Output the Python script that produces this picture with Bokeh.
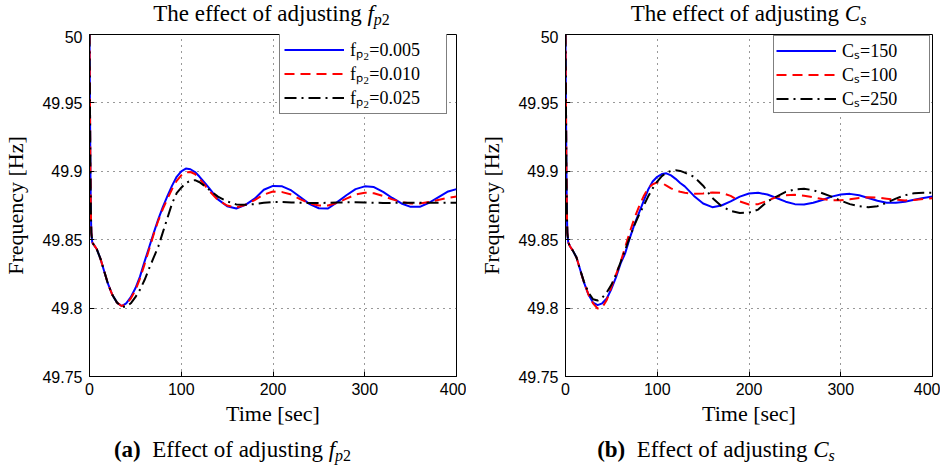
from bokeh.plotting import figure
from bokeh.models import FixedTicker, Legend, LegendItem, Div, Range1d
from bokeh.layouts import row, column
from bokeh.embed import file_html
from bokeh.resources import INLINE

# ---------------- data ----------------
t = [0, 0.5, 1, 1.5, 2, 3, 5, 8, 12, 16, 20, 25, 30,
     35, 40, 45, 50, 55, 60, 65, 70, 75, 80, 85, 90, 95, 100, 105, 110, 115, 120, 125, 130,
     140, 150, 160, 170, 180, 190, 200, 210, 220, 230, 240, 250, 260, 270, 280, 290, 300,
     310, 320, 330, 340, 350, 360, 370, 380, 390, 400]

# panel (a): effect of f_p2
fp2_005 = [50.0, 49.95, 49.9, 49.87, 49.855, 49.848, 49.846, 49.843, 49.836, 49.827, 49.818, 49.8095, 49.804,
           49.8015, 49.8035, 49.808, 49.8145, 49.823, 49.834, 49.8445, 49.855, 49.865, 49.874, 49.882, 49.8895,
           49.896, 49.9, 49.902, 49.9015, 49.8995, 49.896, 49.892, 49.888,
           49.8795, 49.8745, 49.8728, 49.8755, 49.880, 49.8865, 49.8893, 49.889, 49.886, 49.881, 49.876, 49.873,
           49.8728, 49.8775, 49.8825, 49.887, 49.889, 49.8885, 49.885, 49.8805, 49.8765, 49.874, 49.874, 49.877,
           49.881, 49.885, 49.887]
fp2_010 = [50.0, 49.95, 49.9, 49.87, 49.855, 49.848, 49.846, 49.843, 49.836, 49.827, 49.818, 49.8095, 49.804,
           49.8015, 49.803, 49.807, 49.813, 49.8215, 49.832, 49.843, 49.854, 49.864, 49.8725, 49.880, 49.887,
           49.893, 49.897, 49.8993, 49.8995, 49.898, 49.8945, 49.8905, 49.886,
           49.879, 49.875, 49.8735, 49.8755, 49.879, 49.883, 49.8852, 49.8848, 49.883, 49.8795, 49.8765, 49.875,
           49.875, 49.877, 49.880, 49.883, 49.8843, 49.884, 49.882, 49.8795, 49.8775, 49.8765, 49.8765, 49.8775,
           49.879, 49.8805, 49.8815]
fp2_025 = [50.0, 49.95, 49.9, 49.87, 49.855, 49.848, 49.846, 49.843, 49.836, 49.827, 49.818, 49.8095, 49.804,
           49.801, 49.801, 49.8035, 49.808, 49.8135, 49.8205, 49.829, 49.837, 49.845, 49.8555, 49.866, 49.8765,
           49.884, 49.888, 49.8915, 49.893, 49.8935, 49.892, 49.8895, 49.8868,
           49.8815, 49.878, 49.8758, 49.8755, 49.876, 49.877, 49.8775, 49.8775, 49.8772, 49.877, 49.8768, 49.8768,
           49.877, 49.8772, 49.8773, 49.8773, 49.8772, 49.877, 49.8769, 49.8769, 49.877, 49.8771, 49.8771, 49.8771,
           49.877, 49.877, 49.877]

# panel (b): effect of C_s
cs_150 = [50.0, 49.95, 49.9, 49.87, 49.855, 49.848, 49.845, 49.842, 49.837, 49.828, 49.819, 49.810, 49.804,
          49.8022, 49.8035, 49.807, 49.814, 49.8225, 49.8325, 49.840, 49.851, 49.861, 49.8695, 49.878, 49.8865,
          49.8925, 49.896, 49.898, 49.8985, 49.897, 49.8945, 49.8915, 49.889,
          49.882, 49.8765, 49.8738, 49.875, 49.878, 49.8815, 49.8838, 49.8843, 49.883, 49.8805, 49.8778, 49.876,
          49.8757, 49.877, 49.879, 49.8815, 49.883, 49.8835, 49.8825, 49.8805, 49.8785, 49.877, 49.877, 49.8778,
          49.8792, 49.8805, 49.8815]
cs_100 = [50.0, 49.95, 49.9, 49.87, 49.855, 49.848, 49.845, 49.842, 49.837, 49.828, 49.819, 49.810, 49.8035,
          49.7997, 49.8005, 49.806, 49.8155, 49.8245, 49.8335, 49.8445, 49.8555, 49.8655, 49.874, 49.8815, 49.8875,
          49.8905, 49.892, 49.8915, 49.8895, 49.8875, 49.886, 49.885, 49.8843,
          49.8835, 49.8838, 49.8845, 49.8843, 49.882, 49.878, 49.8757, 49.876, 49.8785, 49.8812, 49.8825, 49.8828,
          49.8822, 49.881, 49.8797, 49.8788, 49.8788, 49.8795, 49.8805, 49.881, 49.8808, 49.880, 49.8792, 49.8787,
          49.879, 49.8797, 49.8803]
cs_250 = [50.0, 49.95, 49.9, 49.87, 49.855, 49.848, 49.845, 49.842, 49.837, 49.828, 49.8195, 49.8115, 49.8065,
          49.8055, 49.8075, 49.8115, 49.817, 49.8245, 49.8335, 49.8425, 49.8515, 49.8605, 49.868, 49.8745, 49.8815,
          49.8875, 49.8925, 49.8965, 49.899, 49.9003, 49.9007, 49.9003, 49.899,
          49.896, 49.8895, 49.8805, 49.8745, 49.871, 49.8695, 49.8698, 49.872, 49.878, 49.8815, 49.885, 49.8868,
          49.8872, 49.8862, 49.884, 49.8815, 49.8785, 49.876, 49.8745, 49.8738, 49.8745, 49.877, 49.880, 49.8825,
          49.884, 49.8843, 49.8843]

labels_a = ["f\u209a\u2082=0.005", "f\u209a\u2082=0.010", "f\u209a\u2082=0.025"]
labels_b = ["C\u209b=150", "C\u209b=100", "C\u209b=250"]

xticks = [0, 100, 200, 300, 400]
xtick_labels = ["0", "100", "200", "300", "400"]
yticks = [49.75, 49.8, 49.85, 49.9, 49.95, 50.0]
ytick_labels = ["49.75", "49.8", "49.85", "49.9", "49.95", "50"]

# ---------------- styling ----------------
COLORS = ["#0000FF", "#FF0000", "#000000"]
DASHES = ["solid", "10 6", "12 5 2 5"]
SERIF = "Liberation Serif"
SANS = "Liberation Sans"
FW, FH = 367, 342
TOP, BOTTOM = 4, 55
TITLE_H = 30


def make_panel(series, labels, left, right, leg_loc, leg_pad, leg_lw):
    p = figure(frame_width=FW, frame_height=FH,
               x_range=Range1d(0, 400), y_range=Range1d(49.75, 50.0),
               output_backend="svg", toolbar_location=None,
               min_border_left=left, min_border_right=right,
               min_border_top=TOP, min_border_bottom=BOTTOM,
               background_fill_color="white", border_fill_color="white",
               outline_line_color="black", outline_line_width=1)
    xt = FixedTicker(ticks=xticks)
    yt = FixedTicker(ticks=yticks)
    p.xaxis.ticker = xt
    p.yaxis.ticker = yt
    p.xgrid.ticker = xt
    p.ygrid.ticker = yt
    p.xaxis.major_label_overrides = {k: v for k, v in zip(xticks, xtick_labels)}
    p.yaxis.major_label_overrides = {k: v for k, v in zip(yticks, ytick_labels)}
    p.xaxis.axis_label = "Time [sec]"
    p.yaxis.axis_label = "Frequency [Hz]"
    for ax in (p.xaxis, p.yaxis):
        ax.axis_label_text_font = SERIF
        ax.axis_label_text_font_size = "22px"
        ax.axis_label_text_font_style = "normal"
        ax.axis_label_text_color = "black"
        ax.major_label_text_font = SANS
        ax.major_label_text_font_size = "16px"
        ax.major_label_text_color = "black"
        ax.major_tick_in = 5
        ax.major_tick_out = 0
        ax.minor_tick_in = 0
        ax.minor_tick_out = 0
        ax.axis_line_color = "black"
        ax.major_tick_line_color = "black"
    p.xaxis.major_label_standoff = 6
    p.xaxis.axis_label_standoff = 3
    p.yaxis.major_label_standoff = 7
    p.yaxis.axis_label_standoff = 11
    for g in (p.xgrid, p.ygrid):
        g.grid_line_color = "#333333"
        g.grid_line_dash = "1 5"
        g.grid_line_width = 1

    items = []
    for ys, c, d, lab in zip(series, COLORS, DASHES, labels):
        r = p.line(t, ys, line_color=c, line_width=2, line_dash=d)
        items.append(LegendItem(label=lab, renderers=[r]))
    leg = Legend(items=items, location=leg_loc,
                 border_line_color="black", border_line_width=1,
                 background_fill_color="white", background_fill_alpha=1.0,
                 padding=leg_pad, spacing=0, margin=0,
                 glyph_width=60, glyph_height=17, label_height=17,
                 label_width=leg_lw, label_standoff=6,
                 label_text_font=SERIF, label_text_font_size="18px",
                 label_text_color="black")
    p.add_layout(leg)
    return p


LA, RA = 88, 10
LB, RB = 99, 8
pa = make_panel([fp2_005, fp2_010, fp2_025], labels_a, LA, RA, (190, 262), 4, 92)
pb = make_panel([cs_150, cs_100, cs_250], labels_b, LB, RB, (208, 263), 2, 85)

WA = LA + FW + RA
WB = LB + FW + RB

TXT = "font-family:'Liberation Serif'; color:black; white-space:nowrap; text-align:center;"
SUB = "<span style=\"font-size:16px; vertical-align:-4px; line-height:0\">{}</span>"


def title_div(inner, width, shift):
    html = ('<div style="%s font-size:23px; line-height:20px; padding-top:4px; margin-left:%dpx; '
            'width:%dpx;">%s</div>' % (TXT, shift, width - shift, inner))
    return Div(text=html, width=width, height=TITLE_H, margin=0)


def cap_div(inner, width, shift):
    html = ('<div style="%s font-size:23px; line-height:28px; padding-top:5px; margin-left:%dpx; '
            'width:%dpx;">%s</div>' % (TXT, shift, width - shift, inner))
    return Div(text=html, width=width, height=34, margin=0)


fp2_html = "<i>f</i>" + SUB.format("<i>p</i>2")
cs_html = "<i>C</i>" + SUB.format("<i>s</i>")

ta = title_div("The effect of adjusting " + fp2_html, WA, LA - RA)
tb = title_div("The effect of adjusting " + cs_html, WB, LB - RB)
ca = cap_div("<b>(a)</b>&nbsp;&nbsp;Effect of adjusting " + fp2_html, WA, 0)
cb = cap_div("<b>(b)</b>&nbsp;&nbsp;Effect of adjusting " + cs_html, WB, 26)

layout = row(column(ta, pa, ca, spacing=0), column(tb, pb, cb, spacing=0), spacing=0)

open("out.html", "w").write(file_html(layout, INLINE))
